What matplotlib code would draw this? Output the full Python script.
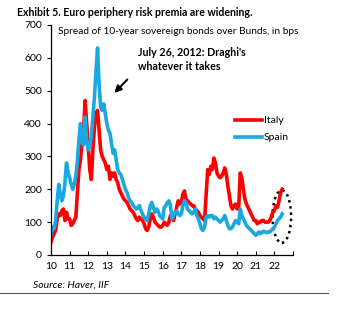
import numpy as np
import matplotlib.pyplot as plt
from matplotlib.patches import Ellipse

plt.rcParams['font.family'] = ['Lato', 'DejaVu Sans']

# monthly spreads over Bunds, bps, Jan 2010 onwards
italy = [
    40, 55, 65, 75, 110, 125, 120, 135, 140, 105, 130, 110,   # 2010
    110, 90, 95, 105, 115, 190, 260, 290, 340, 380, 470, 400,  # 2011
    330, 260, 230, 320, 390, 430, 440, 380, 320, 300, 290, 280,  # 2012
    260, 270, 230, 250, 240, 250, 230, 220, 200, 190, 180, 170,  # 2013
    165, 160, 150, 140, 135, 130, 120, 110, 105, 115, 110, 105,  # 2014
    95, 80, 75, 85, 110, 125, 115, 100, 95, 90, 85, 85,  # 2015
    90, 100, 95, 90, 100, 120, 115, 105, 125, 145, 165, 155,  # 2016
    160, 185, 195, 170, 165, 160, 155, 150, 150, 140, 135, 130,  # 2017
    120, 115, 110, 105, 180, 260, 245, 270, 260, 295, 280, 250,  # 2018
    240, 235, 240, 250, 265, 245, 210, 180, 150, 140, 150, 155,  # 2019
    140, 145, 250, 235, 200, 170, 155, 145, 135, 125, 115, 105,  # 2020
    105, 95, 100, 100, 105, 105, 100, 100, 100, 105, 115, 130,  # 2021
    135, 150, 145, 165, 190, 200,  # 2022
]
spain = [
    65, 85, 80, 105, 165, 215, 185, 165, 180, 220, 280, 250,  # 2010
    235, 215, 200, 215, 240, 285, 350, 400, 345, 335, 420, 350,  # 2011
    320, 330, 360, 420, 480, 560, 630, 520, 450, 440, 460, 430,  # 2012
    400, 380, 370, 340, 310, 320, 290, 260, 250, 245, 230, 215,  # 2013
    200, 190, 175, 165, 160, 150, 145, 140, 145, 150, 135, 125,  # 2014
    115, 110, 105, 125, 150, 160, 145, 130, 140, 135, 120, 115,  # 2015
    110, 145, 150, 160, 165, 150, 110, 120, 130, 135, 125, 120,  # 2016
    125, 150, 165, 160, 140, 135, 130, 125, 130, 140, 120, 110,  # 2017
    95, 80, 75, 85, 115, 120, 115, 120, 120, 110, 115, 110,  # 2018
    105, 100, 105, 110, 120, 105, 90, 80, 80, 85, 95, 105,  # 2019
    100, 95, 140, 120, 110, 100, 90, 85, 80, 75, 70, 65,  # 2020
    60, 65, 70, 65, 70, 72, 70, 68, 70, 70, 75, 80,  # 2021
    85, 95, 105, 110, 115, 125,  # 2022
]
start_year = 2010
year_ticks = list(range(2010, 2024))
year_labels = [str(y % 100) for y in range(2010, 2023)] + ['']

t_it = start_year + np.arange(len(italy)) / 12
t_es = start_year + np.arange(len(spain)) / 12

fig = plt.figure(figsize=(3.45, 3.21), dpi=100)
ax = fig.add_axes([51 / 345, 1 - 255 / 321, 242 / 345, 230 / 321])

ax.plot(t_it, italy, color='#ff0000', lw=2.6, label='Italy')
ax.plot(t_es, spain, color='#1aa8e0', lw=2.6, label='Spain')

ax.set_xlim(2010, 2023)
ax.set_ylim(0, 700)
ax.set_xticks(year_ticks)
ax.set_xticklabels(year_labels)
ax.set_yticks(range(0, 701, 100))
ax.tick_params(axis='x', direction='in', length=3, labelsize=7.5, pad=5)
ax.tick_params(axis='y', direction='out', length=3, labelsize=7.5)
for s in ['top', 'right']:
    ax.spines[s].set_visible(False)
for s in ['left', 'bottom']:
    ax.spines[s].set_linewidth(0.9)

ax.text(2010.35, 680, 'Spread of 10-year sovereign bonds over Bunds, in bps',
        fontsize=7.3, va='center')
ax.text(2014.65, 595, "July 26, 2012: Draghi's\nwhatever it takes",
        fontsize=7.7, fontweight='bold', va='center', linespacing=1.3)
ax.annotate('', xy=(2013.3, 487), xytext=(2014.2, 540),
            arrowprops=dict(arrowstyle='-|>', color='black', lw=1.5,
                            mutation_scale=10))

ax.add_patch(Ellipse((2022.4, 117), 1.0, 160, fill=False, ls=(0, (1, 1.5)),
                     lw=1.8, color='black'))

ax.legend(loc='upper left', bbox_to_anchor=(0.72, 0.645), frameon=False,
          fontsize=7.5, handlelength=2.6, handletextpad=0.2, labelspacing=0.75)

fig.text(17 / 345, 1 - 12 / 321, 'Exhibit 5. Euro periphery risk premia are widening.',
         fontsize=7.6, fontweight='bold', va='center')
fig.text(33 / 345, 1 - 285 / 321, 'Source: Haver, IIF', fontsize=7.5,
         style='italic', va='center')
fig.add_artist(plt.Line2D([0, 328 / 345], [1 - 293 / 321] * 2, color='#555555', lw=0.8))

fig.savefig('out.png', dpi=100)
